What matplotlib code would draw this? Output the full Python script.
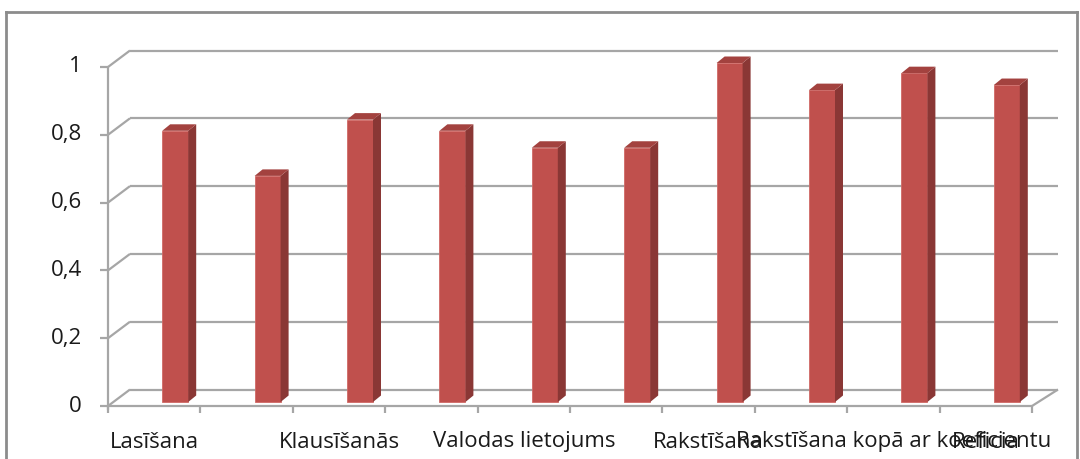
import matplotlib
matplotlib.use("Agg")
import matplotlib.pyplot as plt
from matplotlib.patches import Polygon
from matplotlib.lines import Line2D

# ---- data ----
categories = ["Lasīšana", "", "Klausīšanās", "", "Valodas lietojums", "",
              "Rakstīšana", "", "Rakstīšana kopā ar koeficientu", "Reficia"]
values = [0.80, 0.667, 0.833, 0.80, 0.75, 0.75, 1.0, 0.92, 0.97, 0.935]
y_ticks = [0, 0.2, 0.4, 0.6, 0.8, 1.0]
y_tick_labels = ["0", "0,2", "0,4", "0,6", "0,8", "1"]

# ---- style ----
FRONT = "#c0504d"
SIDE = "#8a3735"
TOP = "#a3423f"
GRID = "#a6a6a6"
FONT = "Open Sans"
FS = 16

W, H = 1080, 459
fig = plt.figure(figsize=(W / 100, H / 100), dpi=100)
L, R, B, T = 108, 1032, 406, 67
ax = fig.add_axes([L / W, (H - B) / H, (R - L) / W, (B - T) / H])
n = len(values)
ax.set_xlim(0, n)
ax.set_ylim(0, 1)
ax.axis("off")

pxx = (R - L) / n       # pixels per category unit
pxy = (B - T) / 1.0     # pixels per value unit
def dx(p): return p / pxx
def dy(p): return p / pxy

# back wall offsets
bdx, bdy = dx(22), dy(16.5)
bdx_r = dx(26)

kw = dict(color=GRID, lw=1.6, clip_on=False, zorder=1, solid_capstyle="butt")
for v in y_ticks:
    ax.add_line(Line2D([bdx, n + bdx_r], [v + bdy, v + bdy], **kw))
    ax.add_line(Line2D([0, bdx], [v, v + bdy], **kw))
    ax.add_line(Line2D([-dx(8), 0], [v, v], **kw))
# floor front & right edge
ax.add_line(Line2D([0, n], [0, 0], **kw))
ax.add_line(Line2D([n, n + bdx_r], [0, bdy], **kw))
# left axis
ax.add_line(Line2D([0, 0], [-dy(4), 1], **kw))
# bottom ticks
for i in range(n + 1):
    ax.add_line(Line2D([i, i], [0, -dy(7)], **kw))

# bars
base = dy(4)
bw = dx(26)
centers = [i + 0.5 + dx(21) for i in range(n)]
bars = ax.bar(centers, values, width=bw, bottom=base, color=FRONT, zorder=3,
              edgecolor="#d06a66", linewidth=0.6)
for b in bars:
    b.set_clip_on(False)
sdx, sdy = dx(8), dy(6.5)
for c, v in zip(centers, values):
    xl, xr = c - bw / 2, c + bw / 2
    top = base + v
    ax.add_patch(Polygon([(xr, base), (xr, top), (xr + sdx, top + sdy), (xr + sdx, base + sdy)],
                         closed=True, facecolor=SIDE, edgecolor="none", zorder=3, clip_on=False))
    ax.add_patch(Polygon([(xl, top), (xr, top), (xr + sdx, top + sdy), (xl + sdx, top + sdy)],
                         closed=True, facecolor=TOP, edgecolor="none", zorder=3, clip_on=False))

# y labels
for v, lab in zip(y_ticks, y_tick_labels):
    ax.text(-dx(26), v, lab, ha="right", va="center", fontsize=FS, family=FONT, color="#1a1a1a")

# x labels
for i, lab in enumerate(categories):
    if lab:
        ax.text(i + 0.5, -dy(36), lab, ha="center", va="center", fontsize=FS,
                family=FONT, color="#1a1a1a", clip_on=False)

# outer border
bk = dict(color="#8c8c8c", lw=2, transform=fig.transFigure, clip_on=False)
fig.add_artist(Line2D([6 / W, 1077 / W], [1 - 12 / H, 1 - 12 / H], **bk))
fig.add_artist(Line2D([6 / W, 6 / W], [1 - 12 / H, 0], **bk))
fig.add_artist(Line2D([1077 / W, 1077 / W], [1 - 12 / H, 0], **bk))

fig.savefig("out.png", dpi=100)
